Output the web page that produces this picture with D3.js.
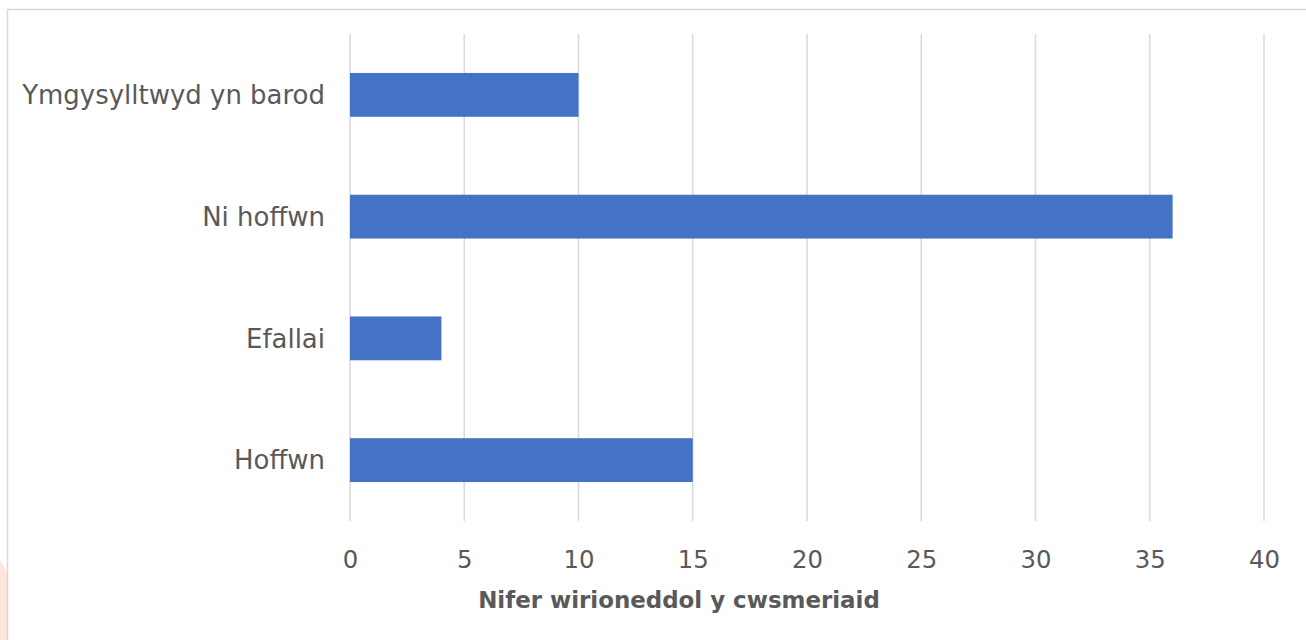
<!DOCTYPE html>
<html>
<head>
    <meta charset="utf-8">
    <title>Nifer wirioneddol y cwsmeriaid</title>
    <script src="https://d3js.org/d3.v7.min.js"></script>
    <style>
        body { margin: 0; background: #fff; }
        svg { display: block; }
        text { font-family: "DejaVu Sans", "Open Sans", sans-serif; fill: #595959; }
    </style>
</head>
<body>
<div id="chart"></div>
<script>
    // Data (top to bottom)
    var categories = ["Ymgysylltwyd yn barod", "Ni hoffwn", "Efallai", "Hoffwn"];
    var values = [10, 36, 4, 15];
    var xTicks = [0, 5, 10, 15, 20, 25, 30, 35, 40];
    var xTitle = "Nifer wirioneddol y cwsmeriaid";

    var W = 1306, H = 640;
    var plot = {left: 350, right: 1264, top: 34, bottom: 521};

    var svg = d3.select("#chart").append("svg")
        .attr("width", W)
        .attr("height", H);

    // pinkish corner shape on the left edge
    svg.append("path")
        .attr("d", "M0,560 L7,572 L7,640 L0,640 Z")
        .attr("fill", "#fde6dc");

    // chart border
    svg.append("rect")
        .attr("x", 7.5).attr("y", 9.5)
        .attr("width", W + 10).attr("height", H + 10)
        .attr("fill", "none")
        .attr("stroke", "#d9d9d9")
        .attr("stroke-width", 1.5);

    var x = d3.scaleLinear()
        .domain([0, 40])
        .range([plot.left, plot.right]);

    var y = d3.scaleBand()
        .domain(categories)
        .range([plot.top, plot.bottom])
        .paddingInner(0.64)
        .paddingOuter(0.32);

    // gridlines
    svg.append("g")
        .selectAll("line")
        .data(xTicks)
        .enter().append("line")
            .attr("x1", function(d) { return x(d); })
            .attr("x2", function(d) { return x(d); })
            .attr("y1", plot.top)
            .attr("y2", plot.bottom)
            .attr("stroke", "#d9d9d9")
            .attr("stroke-width", 1.5);

    // bars
    svg.append("g")
        .selectAll("rect")
        .data(categories)
        .enter().append("rect")
            .attr("x", x(0))
            .attr("y", function(d) { return y(d); })
            .attr("width", function(d, i) { return x(values[i]) - x(0); })
            .attr("height", y.bandwidth())
            .attr("fill", "#4472c4");

    // scale a text selection's font so the widest item hits a target width
    function fitFont(sel, target) {
        sel.style("font-size", "20px");
        var widest = 0;
        sel.each(function() { widest = Math.max(widest, this.getComputedTextLength()); });
        sel.style("font-size", (20 * target / widest) + "px");
    }

    // x axis tick labels
    var xAxis = svg.append("g")
        .attr("transform", "translate(0," + plot.bottom + ")")
        .call(d3.axisBottom(x).tickValues(xTicks).tickSize(0).tickPadding(0));
    xAxis.select(".domain").remove();
    xAxis.selectAll("text")
        .attr("dy", null)
        .attr("y", 47)
        .attr("fill", "#595959");
    fitFont(xAxis.selectAll("text"), 31);

    // y axis category labels
    var yAxis = svg.append("g")
        .attr("transform", "translate(" + plot.left + ",0)")
        .call(d3.axisLeft(y).tickSize(0).tickPadding(25));
    yAxis.select(".domain").remove();
    yAxis.selectAll("text")
        .attr("dy", "0.36em")
        .attr("fill", "#595959");
    fitFont(yAxis.selectAll("text"), 303);

    // axis title
    var title = svg.append("text")
        .attr("x", 679)
        .attr("y", 608)
        .attr("text-anchor", "middle")
        .style("font-weight", "bold")
        .text(xTitle);
    fitFont(title, 402);
</script>
</body>
</html>
